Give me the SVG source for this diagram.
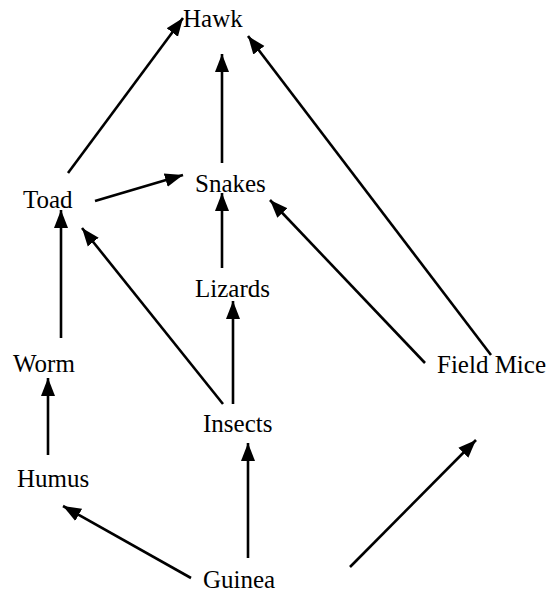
<svg xmlns="http://www.w3.org/2000/svg" width="553" height="596" viewBox="0 0 553 596">
<style>
text{font-family:"Liberation Serif","Times New Roman",serif;font-size:25px;fill:#000}
.e line{stroke:#000;stroke-width:2.6;fill:none;marker-end:url(#ah)}
</style>
<defs>
<marker id="ah" markerUnits="userSpaceOnUse" markerWidth="20" markerHeight="16" refX="18" refY="7" orient="auto" viewBox="0 0 20 14">
<path d="M0,0 L18,7 L0,14 z" fill="#000"/>
</marker>
</defs>
<rect width="553" height="596" fill="#fff"/>
<g class="e" id="connectors">
<line x1="68" y1="173" x2="183" y2="18"/>
<line x1="222" y1="163" x2="222" y2="54"/>
<line x1="491" y1="355" x2="248" y2="36"/>
<line x1="95" y1="201" x2="183" y2="175"/>
<line x1="222" y1="268" x2="222" y2="193"/>
<line x1="425" y1="363" x2="270" y2="200"/>
<line x1="223" y1="404" x2="82" y2="228"/>
<line x1="233" y1="404" x2="233" y2="301"/>
<line x1="61" y1="338" x2="61" y2="210"/>
<line x1="48" y1="455" x2="48" y2="378"/>
<line x1="191" y1="578" x2="63" y2="506"/>
<line x1="248" y1="558" x2="248" y2="443"/>
<line x1="350" y1="567" x2="476" y2="440"/>
</g>
<g id="hawk"><text x="183" y="27">Hawk</text></g>
<g id="snakes"><text x="195" y="192">Snakes</text></g>
<g id="toad"><text x="23" y="208">Toad</text></g>
<g id="lizards"><text x="195" y="297">Lizards</text></g>
<g id="worm"><text x="13" y="372">Worm</text></g>
<g id="fieldmice"><text x="437" y="373">Field Mice</text></g>
<g id="insects"><text x="203" y="432">Insects</text></g>
<g id="humus"><text x="17" y="487">Humus</text></g>
<g id="guinea"><text x="203" y="588">Guinea</text></g>
</svg>
